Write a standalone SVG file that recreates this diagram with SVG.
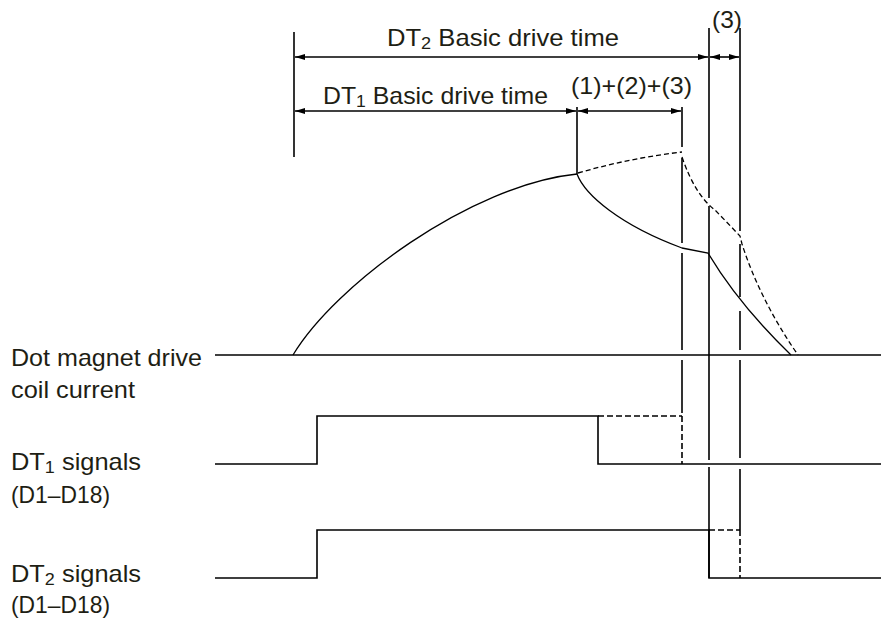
<svg xmlns="http://www.w3.org/2000/svg" width="881" height="626" viewBox="0 0 881 626">
<style>
text{font-family:"Liberation Sans",Arial,sans-serif;font-size:24px;fill:#1e1e14}
.sub{font-size:17px}
.ln{fill:none;stroke:#000;stroke-width:1.6}
.cv{fill:none;stroke:#000;stroke-width:1.3}
.ds{fill:none;stroke:#000;stroke-width:1.6;stroke-dasharray:6 3}
.dc{fill:none;stroke:#000;stroke-width:1.3;stroke-dasharray:5 3}
</style>
<defs>
<marker id="ah" viewBox="0 0 10 8" refX="10" refY="4" markerWidth="10" markerHeight="8" markerUnits="userSpaceOnUse" orient="auto-start-reverse">
<path d="M0,1 L10,4 L0,7 z" fill="#000"/>
</marker>
</defs>
<g id="labels">
<text x="11" y="366" textLength="191" lengthAdjust="spacingAndGlyphs">Dot magnet drive</text>
<text x="11" y="398" textLength="124" lengthAdjust="spacingAndGlyphs">coil current</text>
<text x="11" y="470" textLength="130" lengthAdjust="spacingAndGlyphs">DT<tspan class="sub" dy="3">1</tspan><tspan dy="-3"> signals</tspan></text>
<text x="11" y="503" textLength="99" lengthAdjust="spacingAndGlyphs">(D1–D18)</text>
<text x="11" y="582" textLength="130" lengthAdjust="spacingAndGlyphs">DT<tspan class="sub" dy="3">2</tspan><tspan dy="-3"> signals</tspan></text>
<text x="11" y="613" textLength="99" lengthAdjust="spacingAndGlyphs">(D1–D18)</text>
</g>
<g id="dimensions">
<text x="387" y="46" textLength="232" lengthAdjust="spacingAndGlyphs">DT<tspan class="sub" dy="3">2</tspan><tspan dy="-3"> Basic drive time</tspan></text>
<text x="323" y="104" textLength="225" lengthAdjust="spacingAndGlyphs">DT<tspan class="sub" dy="3">1</tspan><tspan dy="-3"> Basic drive time</tspan></text>
<text x="571" y="94" textLength="121" lengthAdjust="spacingAndGlyphs">(1)+(2)+(3)</text>
<text x="712" y="28" textLength="30" lengthAdjust="spacingAndGlyphs">(3)</text>
<line class="ln" x1="294" y1="32" x2="294" y2="157"/>
<line class="ln" x1="295" y1="57" x2="708" y2="57" marker-start="url(#ah)" marker-end="url(#ah)"/>
<line class="ln" x1="710" y1="57" x2="739" y2="57" marker-start="url(#ah)" marker-end="url(#ah)"/>
<line class="ln" x1="295" y1="111" x2="576" y2="111" marker-start="url(#ah)" marker-end="url(#ah)"/>
<line class="ln" x1="578" y1="111" x2="681" y2="111" marker-start="url(#ah)" marker-end="url(#ah)"/>
</g>
<g id="verticals">
<line class="ln" x1="577" y1="107" x2="577" y2="174"/>
<path class="ln" d="M682,107 V147 M682,158 V243 M682,253 V350 M682,360 V413"/>
<path class="ds" d="M682,416 V464"/>
<path class="ln" d="M709,28 V198 M709,206 V460 M709,467 V578"/>
<path class="ln" d="M740,28 V231 M740,244 V297 M740,311 V350 M740,360 V458 M740,469 V530"/>
<path class="ds" d="M740,530 V578"/>
</g>
<g id="coil-current">
<line class="ln" x1="215" y1="355" x2="881" y2="355"/>
<path class="cv" d="M293,355 C335,285 470,185 577,174"/>
<path class="cv" d="M577,174 C585,195 620,225 682,248 L708,253 C730,290 760,325 791,355"/>
<path class="dc" d="M578,173 Q630,158 682,152"/>
<path class="dc" d="M682,157 Q695,195 715,210 L740,236 L742,244 Q760,300 798,355"/>
</g>
<g id="dt1-signal">
<path class="ln" d="M215,464 H317 V416 H598 V464 H881"/>
<path class="ds" d="M598,416 H682"/>
</g>
<g id="dt2-signal">
<path class="ln" d="M215,578 H317 V530 H709 V578 H881"/>
<path class="ds" d="M709,530 H740"/>
</g>
</svg>
